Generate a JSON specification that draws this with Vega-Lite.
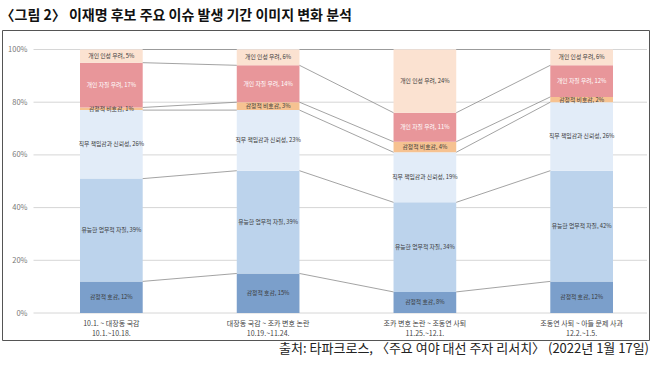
{
  "$schema": "https://vega.github.io/schema/vega-lite/v6.json",
  "width": 647,
  "height": 310,
  "autosize": {"type": "none"},
  "padding": {"left": 2, "top": 30, "right": 1, "bottom": 25},
  "background": "white",
  "config": {
    "font": "Noto Sans CJK KR",
    "view": {"stroke": "#555555", "strokeWidth": 1}
  },
  "title": {
    "text": "출처: 타파크로스, 〈주요 여야 대선 주자 리서치〉 (2022년 1월 17일)",
    "orient": "bottom",
    "anchor": "end",
    "frame": "group",
    "offset": 3,
    "baseline": "top",
    "fontSize": 13,
    "fontWeight": "normal",
    "color": "#222222"
  },
  "datasets": {
    "grid": [{"v": 0}, {"v": 20}, {"v": 40}, {"v": 60}, {"v": 80}, {"v": 100}],
    "seg": [
      {"period": "10.1. ~ 대장동 국감\n10.1.~10.18.", "pidx": 1, "category": "감정적 호감", "order": 1, "value": 12},
      {"period": "10.1. ~ 대장동 국감\n10.1.~10.18.", "pidx": 1, "category": "유능한 업무적 자질", "order": 2, "value": 39},
      {"period": "10.1. ~ 대장동 국감\n10.1.~10.18.", "pidx": 1, "category": "직무 책임감과 신뢰성", "order": 3, "value": 26},
      {"period": "10.1. ~ 대장동 국감\n10.1.~10.18.", "pidx": 1, "category": "감정적 비호감", "order": 4, "value": 1},
      {"period": "10.1. ~ 대장동 국감\n10.1.~10.18.", "pidx": 1, "category": "개인 자질 우려", "order": 5, "value": 17},
      {"period": "10.1. ~ 대장동 국감\n10.1.~10.18.", "pidx": 1, "category": "개인 인성 우려", "order": 6, "value": 5},
      {"period": "대장동 국감 ~ 조카 변호 논란\n10.19.~11.24.", "pidx": 2, "category": "감정적 호감", "order": 1, "value": 15},
      {"period": "대장동 국감 ~ 조카 변호 논란\n10.19.~11.24.", "pidx": 2, "category": "유능한 업무적 자질", "order": 2, "value": 39},
      {"period": "대장동 국감 ~ 조카 변호 논란\n10.19.~11.24.", "pidx": 2, "category": "직무 책임감과 신뢰성", "order": 3, "value": 23},
      {"period": "대장동 국감 ~ 조카 변호 논란\n10.19.~11.24.", "pidx": 2, "category": "감정적 비호감", "order": 4, "value": 3},
      {"period": "대장동 국감 ~ 조카 변호 논란\n10.19.~11.24.", "pidx": 2, "category": "개인 자질 우려", "order": 5, "value": 14},
      {"period": "대장동 국감 ~ 조카 변호 논란\n10.19.~11.24.", "pidx": 2, "category": "개인 인성 우려", "order": 6, "value": 6},
      {"period": "조카 변호 논란 ~ 조동연 사퇴\n11.25.~12.1.", "pidx": 3, "category": "감정적 호감", "order": 1, "value": 8},
      {"period": "조카 변호 논란 ~ 조동연 사퇴\n11.25.~12.1.", "pidx": 3, "category": "유능한 업무적 자질", "order": 2, "value": 34},
      {"period": "조카 변호 논란 ~ 조동연 사퇴\n11.25.~12.1.", "pidx": 3, "category": "직무 책임감과 신뢰성", "order": 3, "value": 19},
      {"period": "조카 변호 논란 ~ 조동연 사퇴\n11.25.~12.1.", "pidx": 3, "category": "감정적 비호감", "order": 4, "value": 4},
      {"period": "조카 변호 논란 ~ 조동연 사퇴\n11.25.~12.1.", "pidx": 3, "category": "개인 자질 우려", "order": 5, "value": 11},
      {"period": "조카 변호 논란 ~ 조동연 사퇴\n11.25.~12.1.", "pidx": 3, "category": "개인 인성 우려", "order": 6, "value": 24},
      {"period": "조동연 사퇴 ~ 아들 문제 사과\n12.2.~1.5.", "pidx": 4, "category": "감정적 호감", "order": 1, "value": 12},
      {"period": "조동연 사퇴 ~ 아들 문제 사과\n12.2.~1.5.", "pidx": 4, "category": "유능한 업무적 자질", "order": 2, "value": 42},
      {"period": "조동연 사퇴 ~ 아들 문제 사과\n12.2.~1.5.", "pidx": 4, "category": "직무 책임감과 신뢰성", "order": 3, "value": 26},
      {"period": "조동연 사퇴 ~ 아들 문제 사과\n12.2.~1.5.", "pidx": 4, "category": "감정적 비호감", "order": 4, "value": 2},
      {"period": "조동연 사퇴 ~ 아들 문제 사과\n12.2.~1.5.", "pidx": 4, "category": "개인 자질 우려", "order": 5, "value": 12},
      {"period": "조동연 사퇴 ~ 아들 문제 사과\n12.2.~1.5.", "pidx": 4, "category": "개인 인성 우려", "order": 6, "value": 6}
    ]
  },
  "layer": [
    {
      "data": {"name": "grid"},
      "mark": {"type": "rule", "color": "#d6d6d6", "strokeWidth": 1},
      "encoding": {
        "y": {
          "field": "v", "type": "quantitative", "title": null,
          "scale": {"domain": [0, 100], "range": [283, 19.5], "nice": false},
          "axis": {
            "orient": "left", "offset": -28, "labelPadding": 3, "domain": false,
            "ticks": false, "tickSize": 0, "grid": false,
            "values": [0, 20, 40, 60, 80, 100],
            "labelExpr": "datum.value + '%'",
            "labelFontSize": 7.5, "labelColor": "#777777"
          }
        },
        "x": {
          "datum": 0, "type": "quantitative",
          "scale": {"domain": [0, 1], "range": [31.5, 645]},
          "axis": {
            "orient": "top", "domain": false, "ticks": false, "labels": false, "grid": false,
            "title": "〈그림 2〉 이재명 후보 주요 이슈 발생 기간 이미지 변화 분석",
            "titleX": -2, "titleY": -11, "titleAlign": "left", "titleAngle": 0,
            "titleBaseline": "alphabetic", "titleFontSize": 14, "titleFontWeight": "bold",
            "titleColor": "#111111"
          }
        },
        "x2": {"datum": 1}
      }
    },
    {
      "layer": [
        {
          "data": {"name": "seg"},
          "mark": {"type": "bar"},
          "encoding": {
            "x": {
              "field": "period", "type": "nominal",
              "scale": {
                "domain": ["10.1. ~ 대장동 국감\n10.1.~10.18.", "대장동 국감 ~ 조카 변호 논란\n10.19.~11.24.", "조카 변호 논란 ~ 조동연 사퇴\n11.25.~12.1.", "조동연 사퇴 ~ 아들 문제 사과\n12.2.~1.5."],
                "range": [78, 611], "paddingInner": 0.6, "paddingOuter": 0
              },
              "axis": {
                "orient": "bottom", "offset": -26, "domain": false, "ticks": false,
                "labelPadding": 5, "labelAngle": 0, "labelBaseline": "top",
                "labelExpr": "split(datum.label, '\\n')",
                "labelFontSize": 7, "labelLineHeight": 10, "labelColor": "#444444",
                "title": null
              }
            },
            "y": {"field": "value", "type": "quantitative", "stack": "zero", "title": null},
            "color": {
              "field": "category", "type": "nominal", "legend": null,
              "scale": {
                "domain": ["감정적 호감", "유능한 업무적 자질", "직무 책임감과 신뢰성", "감정적 비호감", "개인 자질 우려", "개인 인성 우려"],
                "range": ["#7b9fcb", "#bcd3ec", "#e2ecf8", "#f6c291", "#e8969a", "#fbe2d1"]
              }
            },
            "order": {"field": "order", "type": "quantitative"}
          }
        },
        {
          "data": {"name": "seg"},
          "transform": [
            {"stack": "value", "groupby": ["period"], "sort": [{"field": "order"}], "as": ["y0", "y1"]},
            {"calculate": "(datum.y0 + datum.y1) / 2", "as": "mid"},
            {"calculate": "datum.category + ', ' + datum.value + '%'", "as": "label"}
          ],
          "mark": {"type": "text", "fontSize": 5.8},
          "encoding": {
            "x": {
              "field": "period", "type": "nominal",
              "scale": {
                "domain": ["10.1. ~ 대장동 국감\n10.1.~10.18.", "대장동 국감 ~ 조카 변호 논란\n10.19.~11.24.", "조카 변호 논란 ~ 조동연 사퇴\n11.25.~12.1.", "조동연 사퇴 ~ 아들 문제 사과\n12.2.~1.5."],
                "range": [78, 611], "paddingInner": 0.6, "paddingOuter": 0
              }
            },
            "y": {"field": "mid", "type": "quantitative", "title": null},
            "text": {"field": "label"},
            "color": {
              "condition": {"test": "datum.category === '개인 자질 우려'", "value": "#ffffff"},
              "value": "#3a3a3a"
            }
          }
        },
        {
          "data": {"name": "seg"},
          "transform": [
            {"stack": "value", "groupby": ["period"], "sort": [{"field": "order"}], "as": ["y0", "y1"]},
            {"window": [{"op": "lead", "field": "y1", "as": "nextY"}, {"op": "lead", "field": "period", "as": "nextPeriod"}], "groupby": ["category"], "sort": [{"field": "pidx"}]},
            {"filter": "datum.nextPeriod != null"}
          ],
          "mark": {"type": "rule", "color": "#8c8c8c", "strokeWidth": 0.8},
          "encoding": {
            "x": {
              "field": "period", "type": "nominal", "bandPosition": 1,
              "scale": {
                "domain": ["10.1. ~ 대장동 국감\n10.1.~10.18.", "대장동 국감 ~ 조카 변호 논란\n10.19.~11.24.", "조카 변호 논란 ~ 조동연 사퇴\n11.25.~12.1.", "조동연 사퇴 ~ 아들 문제 사과\n12.2.~1.5."],
                "range": [78, 611], "paddingInner": 0.6, "paddingOuter": 0
              }
            },
            "x2": {"field": "nextPeriod", "bandPosition": 0},
            "y": {"field": "y1", "type": "quantitative", "title": null},
            "y2": {"field": "nextY"}
          }
        }
      ]
    }
  ],
  "resolve": {"scale": {"x": "independent"}, "axis": {"x": "independent"}}
}
